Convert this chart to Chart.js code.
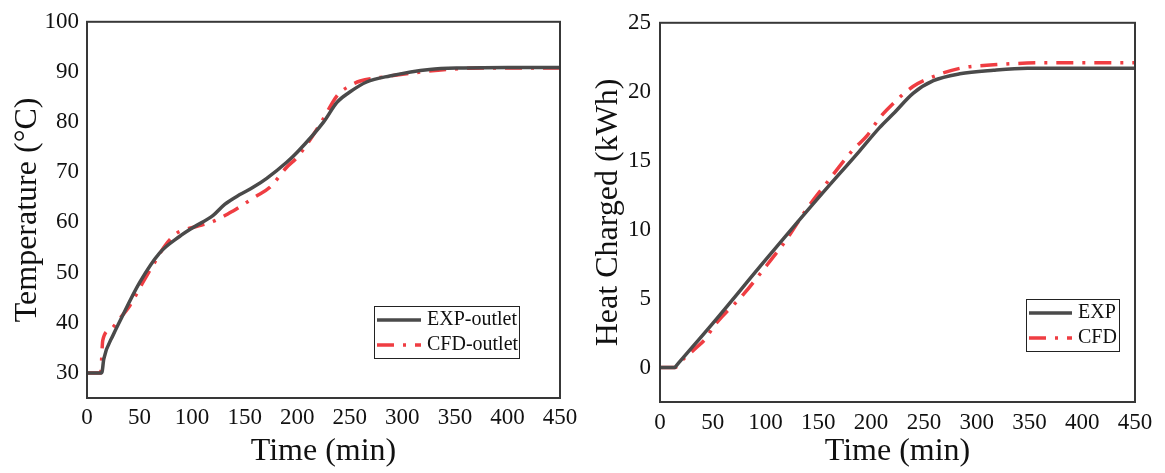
<!DOCTYPE html>
<html>
<head>
<meta charset="utf-8">
<script src="https://cdn.jsdelivr.net/npm/chart.js@4.4.0/dist/chart.umd.min.js"></script>
<style>
  html, body { margin: 0; padding: 0; background: #fff; }
  .box { position: absolute; top: 0; height: 473px; }
</style>
</head>
<body>
<div class="box" style="left:0;width:584px"><canvas id="temp-chart"></canvas></div>
<div class="box" style="left:580px;width:585px"><canvas id="heat-chart"></canvas></div>
<script>
// outlet temperature (left panel)
let expTime = [0, 14, 16, 25, 31, 50, 69, 88, 101, 120, 131, 145, 158, 171, 190, 200, 225, 238, 250, 266, 288, 326, 358, 400, 450];
let expTemp = [30, 30, 32.8, 37.6, 40.2, 48, 53.9, 57.2, 59, 61.4, 63.6, 65.5, 67, 68.8, 72, 74, 80, 84, 86, 88, 89.2, 90.5, 90.8, 90.9, 90.9];
let cfdTime = [0, 13, 15, 22, 31, 41, 53, 66, 74, 85, 91, 104, 120, 139, 160, 174, 190, 200, 209, 223, 238, 248, 260, 279, 310, 342, 380, 450];
let cfdTemp = [30, 30, 36.5, 38.6, 40.8, 43.5, 48, 52.6, 55.3, 57.8, 58.4, 59.2, 60.2, 62.3, 65.1, 67, 71, 73, 75.5, 80, 85.3, 87, 88.2, 88.9, 89.8, 90.5, 90.8, 90.8];

// heat charged (right panel)
let expHeatTime = [0, 14, 15, 50, 100, 150, 189, 208, 221, 240, 259, 284, 316, 348, 400, 450];
let expHeat = [0, 0, 0.09, 3.2, 7.8, 12.3, 15.7, 17.4, 18.4, 19.9, 20.8, 21.3, 21.56, 21.7, 21.7, 21.7];
let cfdHeatTime = [0, 14, 22, 33, 44, 50, 79, 101, 120, 139, 158, 183, 196, 208, 215, 240, 259, 284, 316, 363, 450];
let cfdHeat = [0, 0, 0.6, 1.35, 2.16, 2.9, 5.3, 7.4, 9.3, 11.5, 13.4, 15.8, 16.8, 18.1, 18.7, 20.4, 21.1, 21.7, 21.95, 22.1, 22.1];

let timeTicks = [0, 50, 100, 150, 200, 250, 300, 350, 400, 450];
let tempTicks = [30, 40, 50, 60, 70, 80, 90, 100];
let heatTicks = [0, 5, 10, 15, 20, 25];

let expLabels = ['EXP-outlet', 'EXP'];
let cfdLabels = ['CFD-outlet', 'CFD'];

const serif = '"Liberation Serif", "Times New Roman", serif';
const expColor = '#4a4a4a';
const cfdColor = '#ef3d42';
const cfdDash = [17, 9, 3, 9];

let toPoints = (xs, ys) => xs.map((x, i) => ({ x: x, y: ys[i] }));

// frame around the plot area + legend box drawn inside it
const framePlugin = {
  id: 'frame',
  afterDraw(chart, args, opts) {
    const ctx = chart.ctx;
    const a = chart.chartArea;
    ctx.save();
    ctx.strokeStyle = '#383838';
    ctx.lineWidth = 2;
    ctx.strokeRect(a.left, a.top, a.right - a.left, a.bottom - a.top);

    const lg = opts.legend;
    ctx.fillStyle = '#fff';
    ctx.fillRect(lg.x, lg.y, lg.w, lg.h);
    ctx.strokeStyle = '#222';
    ctx.lineWidth = 1;
    ctx.strokeRect(lg.x + 0.5, lg.y + 0.5, lg.w, lg.h);
    ctx.font = '20px ' + serif;
    ctx.textBaseline = 'middle';
    chart.data.datasets.forEach((ds, i) => {
      const yy = lg.y + lg.row0 + i * lg.rowGap;
      ctx.beginPath();
      ctx.strokeStyle = ds.borderColor;
      ctx.lineWidth = 3.5;
      ctx.setLineDash(ds.borderDash || []);
      ctx.moveTo(lg.x + 3, yy);
      ctx.lineTo(lg.x + 3 + lg.sample, yy);
      ctx.stroke();
      ctx.setLineDash([]);
      ctx.fillStyle = '#111';
      ctx.fillText(ds.label, lg.x + lg.sample + 9, yy);
    });
    ctx.restore();
  }
};

function makeChart(id, cfg) {
  let canvas = document.getElementById(id).getContext('2d');
  return new Chart(canvas, {
    type: 'line',
    data: {
      datasets: [
        {
          label: cfg.expLabel,
          data: cfg.exp,
          borderColor: expColor,
          borderWidth: 3.5,
          pointRadius: 0,
          cubicInterpolationMode: 'monotone',
        },
        {
          label: cfg.cfdLabel,
          data: cfg.cfd,
          borderColor: cfdColor,
          borderWidth: 3.5,
          borderDash: cfdDash,
          pointRadius: 0,
          cubicInterpolationMode: 'monotone',
        },
      ],
    },
    options: {
      responsive: true,
      maintainAspectRatio: false,
      animation: false,
      layout: { padding: { top: cfg.top, right: cfg.right, left: 0, bottom: 0 } },
      plugins: {
        legend: { display: false },
        tooltip: { enabled: false },
        frame: { legend: cfg.legend },
      },
      scales: {
        x: {
          type: 'linear',
          min: 0,
          max: 450,
          afterBuildTicks: s => { s.ticks = timeTicks.map(v => ({ value: v })); },
          afterFit: s => { s.height = cfg.xHeight; },
          grid: { display: false, drawTicks: false },
          border: { display: false },
          ticks: { color: '#111', padding: cfg.xPad, font: { family: serif, size: 23 }, maxRotation: 0 },
          title: { display: true, text: 'Time (min)', color: '#111', padding: { top: 0, bottom: 2 }, font: { family: serif, size: 32 } },
        },
        y: {
          min: cfg.yMin,
          max: cfg.yMax,
          afterBuildTicks: s => { s.ticks = cfg.yTicks.map(v => ({ value: v })); },
          afterFit: s => { s.width = cfg.yWidth; },
          grid: { display: false, drawTicks: false },
          border: { display: false },
          ticks: { color: '#111', padding: cfg.yPad, font: { family: serif, size: 23 } },
          title: { display: true, text: cfg.yTitle, color: '#111', padding: { top: cfg.yTitlePad, bottom: 0 }, font: { family: serif, size: 32 } },
        },
      },
    },
    plugins: [framePlugin],
  });
}

makeChart('temp-chart', {
  exp: toPoints(expTime, expTemp),
  cfd: toPoints(cfdTime, cfdTemp),
  expLabel: expLabels[0],
  cfdLabel: cfdLabels[0],
  yMin: 25, yMax: 100, yTicks: tempTicks,
  yTitle: 'Temperature (°C)',
  top: 15, right: 24, xHeight: 75, yWidth: 87,
  xPad: 6, yPad: 8, yTitlePad: 8,
  legend: { x: 374, y: 306, w: 145, h: 52, row0: 14, rowGap: 25, sample: 44 },
});

makeChart('heat-chart', {
  exp: toPoints(expHeatTime, expHeat),
  cfd: toPoints(cfdHeatTime, cfdHeat),
  expLabel: expLabels[1],
  cfdLabel: cfdLabels[1],
  yMin: -2.5, yMax: 25, yTicks: heatTicks,
  yTitle: 'Heat Charged (kWh)',
  top: 19, right: 30, xHeight: 71, yWidth: 80,
  xPad: 7, yPad: 9, yTitlePad: 9,
  legend: { x: 446, y: 299, w: 93, h: 52, row0: 14, rowGap: 25, sample: 43 },
});
</script>
</body>
</html>
